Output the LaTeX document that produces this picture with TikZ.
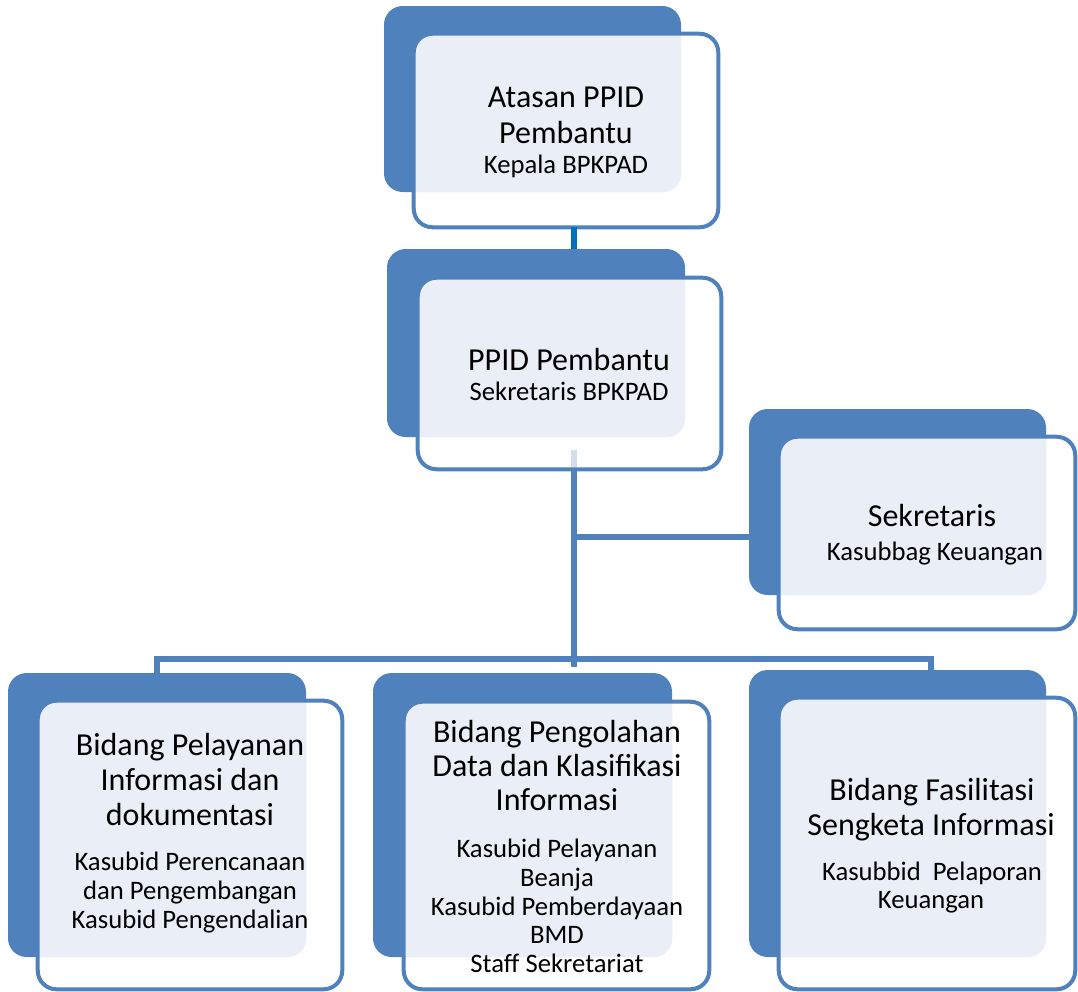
\documentclass[tikz,border=0pt]{standalone}
\usepackage{fontspec}
\setmainfont{Carlito}
\definecolor{dkblue}{HTML}{4F81BD}
\definecolor{ltfill}{HTML}{EAEFF7}
\definecolor{topconn}{HTML}{0070C0}
\definecolor{faint}{HTML}{D3DDEC}
\tikzset{
  backbox/.style={fill=dkblue, rounded corners=14pt, inner sep=0pt},
  frontbox/.style={fill=white, rounded corners=14pt, inner sep=0pt},
  frontborder/.style={draw=dkblue, line width=3pt, rounded corners=14pt},
  conn/.style={draw=dkblue, line width=4.5pt},
  bigtxt/.style={font=\fontsize{24pt}{26pt}\selectfont, anchor=base, inner sep=0pt},
  smalltxt/.style={font=\fontsize{20pt}{22pt}\selectfont, anchor=base, inner sep=0pt},
}
% #1 name, #2-#5 back box x1 y1 x2 y2 (px), #6-#9 front box x1 y1 x2 y2 (px)
\newcommand\orgunit[9]{%
  \node[backbox, minimum width={(#4-#2)*0.75pt}, minimum height={(#5-#3)*0.75pt}]
    (#1b) at ({(#2+#4)/2},{(#3+#5)/2}) {};
  \node[frontbox, minimum width={(#8-#6)*0.75pt}, minimum height={(#9-#7)*0.75pt}]
    (#1f) at ({(#6+#8)/2},{(#7+#9)/2}) {};
  \begin{scope}
    \clip[rounded corners=14pt] (#1f.south west) rectangle (#1f.north east);
    \fill[ltfill, rounded corners=14pt] (#1b.south west) rectangle (#1b.north east);
  \end{scope}
}
\newcommand\frontline[1]{%
  \draw[frontborder] (#1f.south west) rectangle (#1f.north east);
}
\begin{document}
\begin{tikzpicture}[x=0.75pt, y=-0.75pt]
\useasboundingbox (0,0) rectangle (1078,992);

% units
\orgunit{u1}{384}{6}{681}{192}{414}{34}{718}{227}
\orgunit{u2}{387}{249}{685}{437}{418}{278}{721}{469}
\orgunit{u3}{749}{409}{1046}{595}{779}{437}{1075}{629}
\orgunit{u4}{8}{673}{306}{957}{38}{701}{342}{989}
\orgunit{u5}{373}{673}{672}{957}{404}{702}{709}{989}
\orgunit{u6}{749}{670}{1046}{957}{779}{698}{1075}{989}

% faint part of the spine inside the second box
\coordinate (spine) at (574,450);
\draw[faint, line width=4.5pt] (spine) -- (spine |- u2f.south);

\frontline{u1}
\frontline{u2}
\frontline{u3}
\frontline{u4}
\frontline{u5}
\frontline{u6}

% connectors
\coordinate (spineend) at (574,667);
\coordinate (barleft) at (157,659);
\coordinate (barright) at (931,659);
\coordinate (branch) at (574,537);
\draw[topconn, line width=5pt] (u1f.south -| spine) -- (u2b.north -| spine);
\draw[conn] (u2f.south -| spine) -- (spineend);
\draw[conn] (branch) -- (branch -| u3b.west);
\draw[conn, line cap=rect] (barleft) -- (barright);
\draw[dkblue, line width=4pt] (barleft) -- (u4b.north -| barleft);
\draw[dkblue, line width=4pt] (barright) -- (u6f.north -| barright);

% texts
\node[bigtxt] (t1a) at (566,107) {Atasan PPID};
\node[bigtxt] (t1b) at (566,143) {Pembantu};
\node[smalltxt] (t1c) at (566,173) {Kepala BPKPAD};

\node[bigtxt] (t2a) at (569,370) {PPID Pembantu};
\node[smalltxt] (t2b) at (569,400) {Sekretaris BPKPAD};

\node[bigtxt] (t3a) at (932,526) {Sekretaris};
\node[smalltxt] (t3b) at (935,560) {Kasubbag Keuangan};

\node[bigtxt] (t4a) at (190,755) {Bidang Pelayanan};
\node[bigtxt] (t4b) at (190,790) {Informasi dan};
\node[bigtxt] (t4c) at (190,825) {dokumentasi};
\node[smalltxt] (t4d) at (190,870) {Kasubid Perencanaan};
\node[smalltxt] (t4e) at (190,899) {dan Pengembangan};
\node[smalltxt] (t4f) at (190,928) {Kasubid Pengendalian};

\node[bigtxt] (t5a) at (557,742) {Bidang Pengolahan};
\node[bigtxt] (t5b) at (557,776) {Data dan Klasifikasi};
\node[bigtxt] (t5c) at (557,810) {Informasi};
\node[smalltxt] (t5d) at (557,857) {Kasubid Pelayanan};
\node[smalltxt] (t5e) at (557,886) {Beanja};
\node[smalltxt] (t5f) at (557,915) {Kasubid Pemberdayaan};
\node[smalltxt] (t5g) at (557,943) {BMD};
\node[smalltxt] (t5h) at (557,972) {Staff Sekretariat};

\node[bigtxt] (t6a) at (932,800) {Bidang Fasilitasi};
\node[bigtxt] (t6b) at (931,835) {Sengketa Informasi};
\node[smalltxt] (t6c) at (932,880) {Kasubbid\ \ Pelaporan};
\node[smalltxt] (t6d) at (931,908) {Keuangan};
\end{tikzpicture}
\end{document}
